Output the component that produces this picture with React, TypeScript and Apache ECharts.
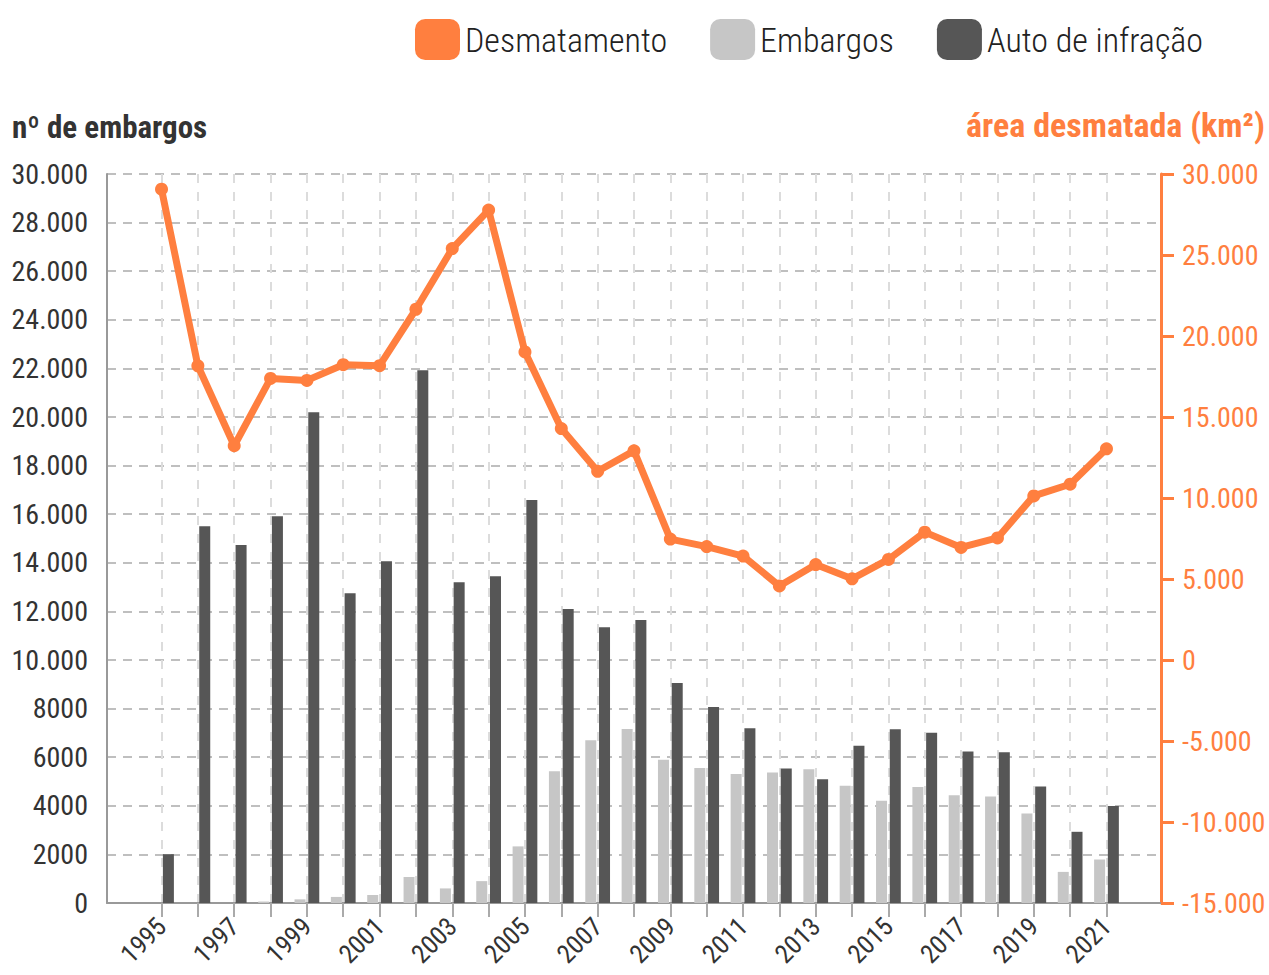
import React, { useEffect, useRef } from "react";
import * as echarts from "echarts";

const years: string[] = [
  "1994", "1995", "1996", "1997", "1998", "1999", "2000", "2001", "2002", "2003",
  "2004", "2005", "2006", "2007", "2008", "2009", "2010", "2011", "2012", "2013",
  "2014", "2015", "2016", "2017", "2018", "2019", "2020", "2021", "2022",
];

const desmatamento: (number | null)[] = [
  null, 29059, 18161, 13227, 17383, 17259, 18226, 18165, 21651, 25396,
  27772, 19014, 14286, 11651, 12911, 7464, 7000, 6418, 4571, 5891,
  5012, 6207, 7893, 6947, 7536, 10129, 10851, 13038, null,
];

const embargos: (number | null)[] = [
  null, 0, 0, 0, 60, 150, 250, 330, 1070, 600,
  900, 2330, 5420, 6700, 7160, 5900, 5560, 5310, 5370, 5500,
  4830, 4210, 4770, 4430, 4380, 3680, 1280, 1790, null,
];

const autoInfracao: (number | null)[] = [
  null, 2010, 15500, 14730, 15920, 20200, 12750, 14060, 21920, 13200,
  13450, 16580, 12100, 11350, 11650, 9050, 8070, 7190, 5530, 5090,
  6470, 7150, 7010, 6230, 6200, 4790, 2930, 3990, null,
];

const FONT = "'Roboto Condensed', 'DejaVu Sans Condensed', 'Liberation Sans Narrow', Roboto, sans-serif";
const ORANGE = "#ff7f3f";
const LIGHT = "#c6c6c6";
const DARK = "#565656";

const dotFmt = (v: number) => {
  const s = String(Math.abs(v)).replace(/\B(?=(\d{3})+(?!\d))/g, ".");
  return (v < 0 ? "-" : "") + s;
};

const inRange = (val: string) => {
  const y = Number(val);
  return y >= 1995 && y <= 2021;
};

export default function App() {
  const ref = useRef<HTMLDivElement>(null);
  useEffect(() => {
    if (!ref.current) return;
    const chart = echarts.init(ref.current, undefined, { renderer: "svg" });
    chart.setOption({
      animation: false,
      backgroundColor: "#ffffff",
      textStyle: { fontFamily: FONT },
      legend: {
        left: 410,
        top: 14,
        width: 900,
        itemWidth: 45,
        itemHeight: 41,
        itemGap: 43,
        icon: "roundRect",
        textStyle: { fontSize: 34, fontWeight: 300, color: "#222", fontFamily: FONT },
        data: ["Desmatamento", "Embargos", "Auto de infração"],
      },
      grid: { left: 107, right: 108, top: 174, bottom: 72, outerBoundsMode: "none", containLabel: false },
      graphic: [
        {
          type: "text",
          left: 12,
          top: 112,
          style: { text: "nº de embargos", fill: "#333", font: `bold 31px ${FONT}` },
        },
        {
          type: "text",
          right: 4,
          top: 108,
          style: { text: "área desmatada (km²)", fill: ORANGE, font: `bold 34px ${FONT}` },
        },
      ],
      xAxis: {
        type: "category",
        data: years,
        boundaryGap: true,
        axisLine: { show: true, lineStyle: { color: "#999", width: 2 } },
        axisTick: {
          show: true,
          alignWithLabel: true,
          length: 14,
          interval: (_i: number, v: string) => inRange(v),
          lineStyle: { color: "#aaa", width: 2 },
        },
        axisLabel: {
          interval: (_i: number, v: string) => inRange(v) && Number(v) % 2 === 1,
          rotate: 45,
          fontSize: 26,
          color: "#333",
          margin: 19,
        },
        splitLine: {
          show: true,
          alignWithLabel: true,
          interval: (_i: number, v: string) => inRange(v),
          lineStyle: { color: "#dcdcdc", width: 2, type: [9, 9] },
        },
      },
      yAxis: [
        {
          type: "value",
          min: 0,
          max: 30000,
          interval: 2000,
          position: "left",
          axisLine: { show: true, lineStyle: { color: "#999", width: 2 } },
          axisTick: { show: false },
          axisLabel: {
            fontSize: 28,
            color: "#333",
            margin: 19,
            formatter: (v: number) => (v >= 10000 ? dotFmt(v) : String(v)),
          },
          splitLine: { show: true, lineStyle: { color: "#aaa", width: 1.5, type: [9, 7] } },
        },
        {
          type: "value",
          min: -15000,
          max: 30000,
          interval: 5000,
          position: "right",
          axisLine: { show: true, lineStyle: { color: ORANGE, width: 3 } },
          axisTick: { show: true, length: 13, lineStyle: { color: ORANGE, width: 3 } },
          axisLabel: {
            fontSize: 28,
            color: ORANGE,
            margin: 21,
            formatter: (v: number) => dotFmt(v),
          },
          splitLine: { show: false },
        },
      ],
      series: [
        {
          name: "Embargos",
          type: "bar",
          yAxisIndex: 0,
          data: embargos,
          barWidth: 11,
          barGap: "25%",
          itemStyle: { color: LIGHT },
        },
        {
          name: "Auto de infração",
          type: "bar",
          yAxisIndex: 0,
          data: autoInfracao,
          barWidth: 11,
          itemStyle: { color: DARK },
        },
        {
          name: "Desmatamento",
          type: "line",
          yAxisIndex: 1,
          data: desmatamento,
          symbol: "circle",
          symbolSize: 13,
          itemStyle: { color: ORANGE },
          lineStyle: { color: ORANGE, width: 7 },
          z: 5,
        },
      ],
    });
    return () => chart.dispose();
  }, []);
  return (
    <div
      ref={ref}
      style={{ position: "fixed", left: 0, top: 0, width: 1269, height: 975 }}
    />
  );
}
